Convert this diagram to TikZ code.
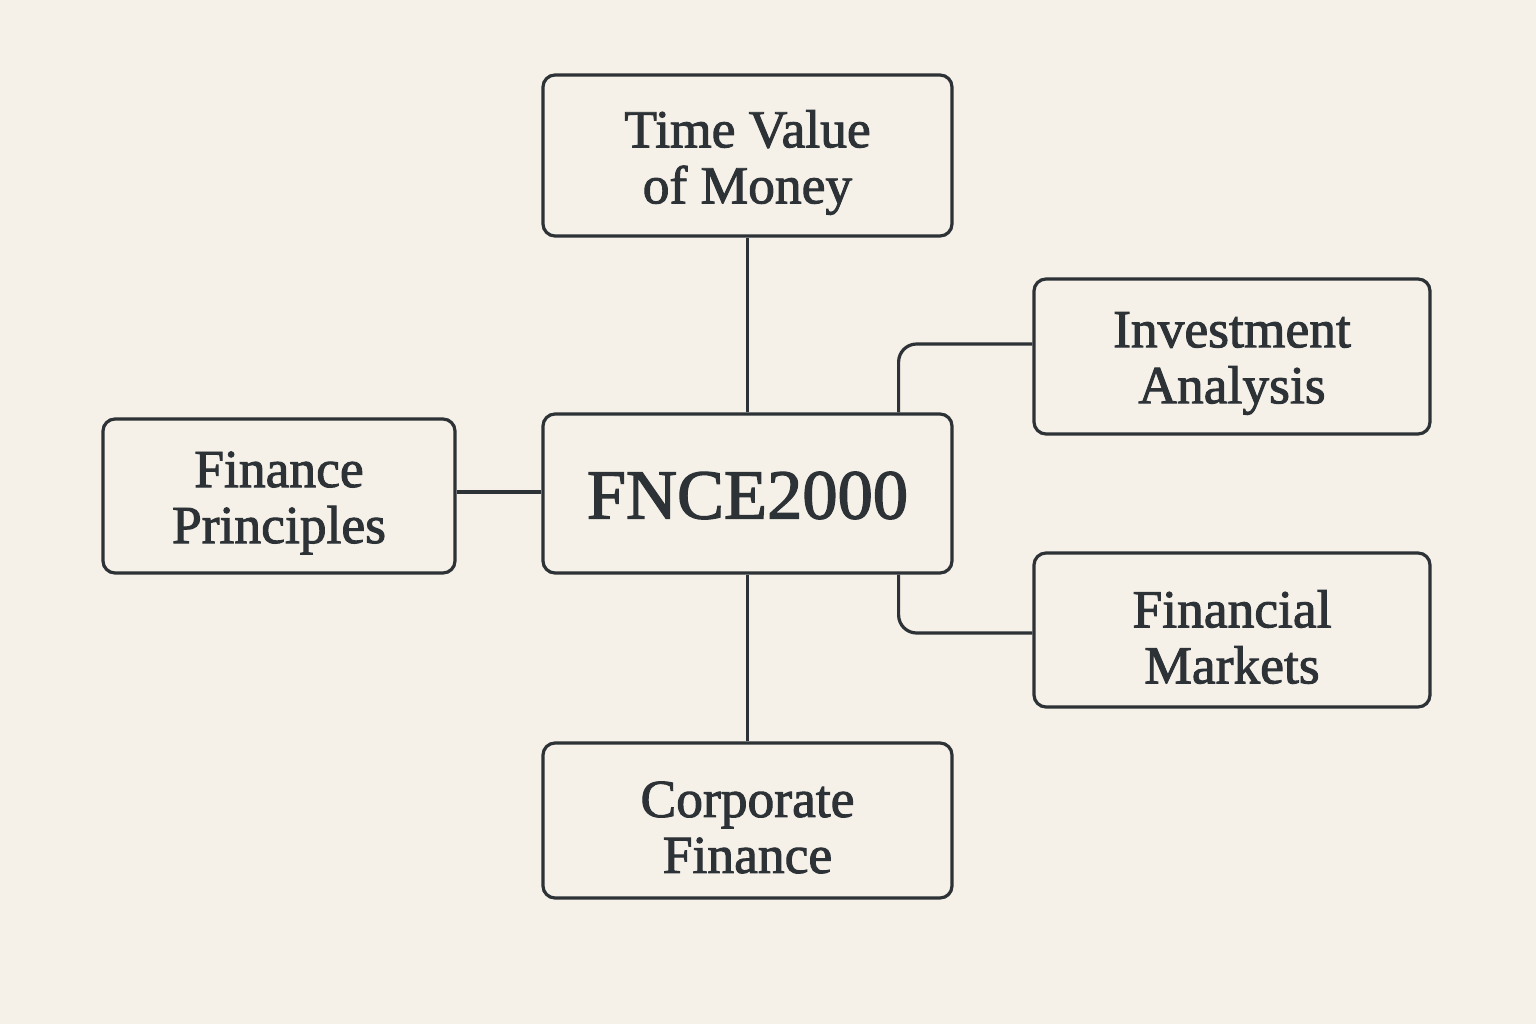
\documentclass[tikz,border=0pt]{standalone}
\usepackage{fontspec}
\setmainfont{Liberation Serif}[FakeBold=1.8]
\usetikzlibrary{calc}
\definecolor{bgc}{HTML}{F5F0E8}
\definecolor{ink}{HTML}{2C3236}
\begin{document}
\begin{tikzpicture}[x=1pt,y=-1pt,
  box/.style={draw=ink, line width=3.2pt, rounded corners=12pt, fill=bgc, inner sep=0pt},
  txt/.style={label={[text=ink, align=center, inner sep=0pt, yshift=-7pt,
    font=\fontsize{53.5}{56}\selectfont]center:{#1}}},
  link/.style={draw=ink, line width=3.2pt, rounded corners=18pt}]
\fill[bgc] (0,0) rectangle (1536,1024);
\useasboundingbox (0,0) rectangle (1536,1024);
\node[box, minimum width=409pt, minimum height=161pt, txt={Time Value\\of Money}] (tvm) at (747.5,155.5) {};
\node[box, minimum width=396pt, minimum height=155pt, txt={Investment\\Analysis}] (inv) at (1232,356.5) {};
\node[box, minimum width=352pt, minimum height=154pt, txt={Finance\\Principles}] (fp) at (279,496) {};
\node[box, minimum width=409pt, minimum height=159pt, text=ink, yshift=-2pt,
  font=\fontsize{70}{74}\selectfont, label={[text=ink, inner sep=0pt, yshift=-2pt,
  font=\fontsize{70.5}{74}\selectfont]center:FNCE2000}] (fnce) at (747.5,491.5) {};
\node[box, minimum width=396pt, minimum height=154pt, txt={Financial\\Markets}] (fm) at (1232,630) {};
\node[box, minimum width=409pt, minimum height=155pt, txt={Corporate\\Finance}] (cf) at (747.5,820.5) {};
\draw[link] (tvm.south) -- (fnce.north);
\draw[link] (fp.east |- 0,492) -- (fnce.west |- 0,492);
\draw[link] (fnce.south) -- (cf.north);
\draw[link] ([xshift=-55pt]fnce.north east) |- ([yshift=12.5pt]inv.west);
\draw[link] ([xshift=-55pt]fnce.south east) |- ([yshift=-3pt]fm.west);
\end{tikzpicture}
\end{document}
